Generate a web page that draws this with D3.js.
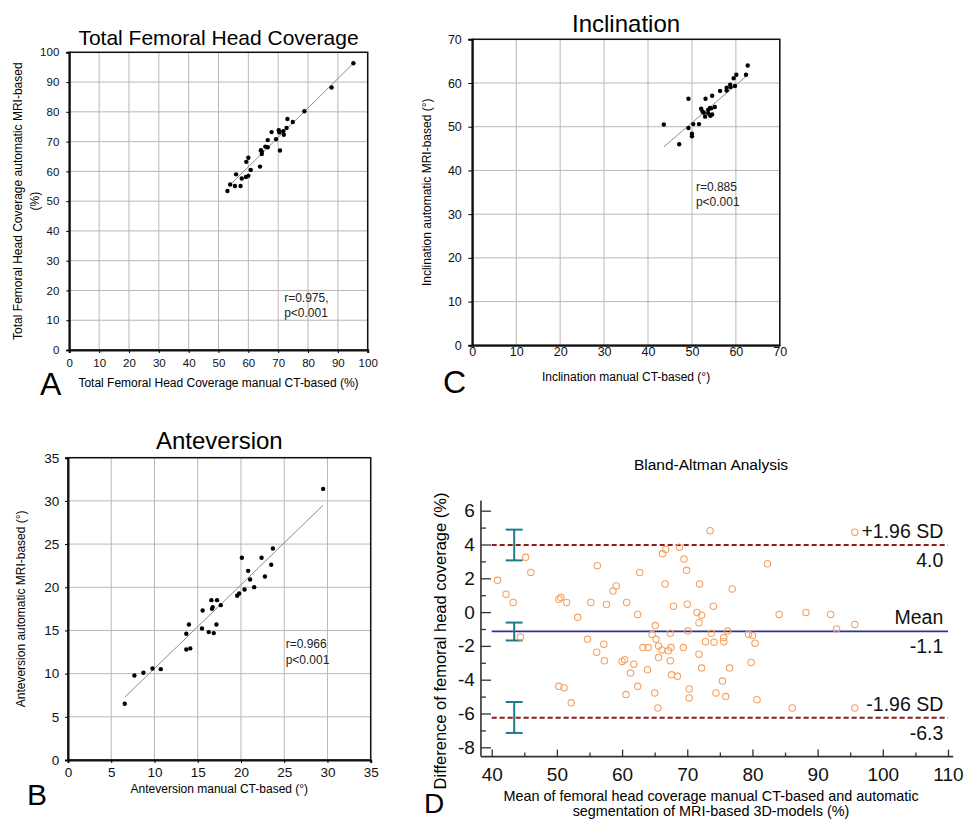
<!DOCTYPE html>
<html>
<head>
<meta charset="utf-8">
<script src="https://cdn.jsdelivr.net/npm/d3@7"></script>
<style>body{margin:0;background:#fff}</style>
</head>
<body>
<script>
// Panel A - total femoral head coverage (%)
const coverageCT  = [53.0,53.9,55.5,55.9,57.4,57.8,59.2,59.3,60.0,60.0,60.8,63.9,64.2,64.5,64.5,65.7,66.5,66.5,67.8,69.3,70.2,70.4,70.6,71.7,71.9,72.8,73.1,74.9,78.8,87.9,95.2];
const coverageMRI = [53.4,55.6,55.1,59.0,55.1,57.6,58.1,63.2,58.5,64.6,60.5,61.6,67.1,65.8,66.6,68.3,68.1,70.5,73.2,70.8,73.8,73.1,67.0,73.5,72.3,74.6,77.6,76.6,80.2,88.2,96.3];
const coverageFit = [[54.4, 56.0], [95.2, 96.3]];
const coverageTicks = [0,10,20,30,40,50,60,70,80,90,100];
const coverageStats = ["r=0.975,", "p<0.001"];

// Panel C - inclination (°)
const inclinationCT  = [43.6,47.1,49.2,49.2,50.0,50.0,50.3,51.6,52.1,52.4,52.7,53.1,53.0,53.7,53.7,54.1,54.2,54.6,54.6,54.4,55.2,56.4,57.9,57.9,58.7,58.8,59.5,59.8,60.1,62.3,62.7];
const inclinationMRI = [50.5,46.0,56.4,49.7,48.4,47.8,50.6,50.6,54.1,53.5,53.2,56.4,52.3,53.9,53.1,54.3,52.5,52.8,57.1,54.2,54.5,58.2,58.9,58.3,59.6,59.1,61.1,59.3,61.9,61.9,64.0];
const inclinationFit = [[43.6, 45.4], [62.4, 61.6]];
const inclinationTicks = [0,10,20,30,40,50,60,70];
const inclinationStats = ["r=0.885", "p<0.001"];

// Panel B - anteversion (°)
const anteversionCT  = [6.56,7.68,8.72,9.77,10.73,13.68,14.14,13.68,13.98,15.49,15.57,16.27,16.85,17.16,16.58,17.23,16.73,16.65,17.66,19.56,19.79,20.41,20.10,20.83,21.06,21.53,22.38,22.77,23.50,23.69,29.50];
const anteversionMRI = [6.51,9.79,10.10,10.60,10.52,12.80,12.92,14.61,15.69,15.23,17.31,14.81,14.69,15.69,18.51,18.51,17.70,17.50,17.93,19.01,19.28,19.74,23.41,21.90,20.90,20.01,23.41,21.25,22.60,24.49,31.39];
const anteversionFit = [[6.6, 7.3], [29.5, 29.5]];
const anteversionTicks = [0,5,10,15,20,25,30,35];
const anteversionStats = ["r=0.966", "p<0.001"];

// Panel D - Bland-Altman
const baMean = [40.9,42.2,43.3,45.2,46.0,44.4,50.3,50.6,51.5,50.3,51.1,52.2,53.2,54.7,55.2,56.2,56.1,57.2,57.3,57.6,
  58.6,59.1,60.0,60.4,60.7,60.6,61.3,61.8,62.4,62.7,62.4,63.2,64.0,63.9,64.6,65.1,65.2,65.0,65.6,65.6,
  65.5,66.1,66.2,66.7,66.6,67.1,67.4,67.5,67.4,67.6,67.9,68.5,68.8,69.4,69.5,69.9,70.0,70.1,70.3,70.3,
  73.5,95.7,82.3,71.9,76.9,74.0,71.5,72.2,71.8,84.1,88.2,92.0,92.9,95.7,73.7,76.2,75.6,75.6,72.8,74.1,
  79.4,80.0,80.4,71.8,72.2,76.5,79.8,75.4,74.4,75.9,80.7,86.1,95.7];
const baDiff = [1.88,1.06,0.57,3.24,2.35,-1.47,0.76,0.86,0.57,-4.39,-4.47,-5.37,-0.31,-1.61,0.57,2.75,-2.37,-1.90,-2.88,0.45,
  1.25,1.55,-2.92,-2.82,0.57,-4.88,-3.61,-3.08,-0.14,2.35,-4.39,-2.10,-2.10,-3.41,-1.33,-0.80,-1.61,-4.78,-2.00,-2.69,
  -5.67,-2.24,3.45,3.71,1.67,-2.29,-1.25,-2.10,-2.88,-3.71,0.35,-3.80,3.84,-2.10,3.14,2.47,0.47,-1.12,-4.55,-5.08,
  4.82,4.73,2.86,1.67,1.37,0.35,-0.02,-0.18,-0.63,-0.14,-0.02,-0.14,-1.00,-0.73,-1.25,-1.12,-1.51,-1.75,-1.75,-1.78,
  -1.31,-1.39,-1.84,-2.49,-3.31,-3.31,-2.98,-4.08,-4.78,-5.00,-5.18,-5.67,-5.67];
const limitNames  = ["+1.96 SD", "Mean", "-1.96 SD"];
const limitValues = [3.97, -1.14, -6.25];
const limitLabels = ["4.0", "-1.1", "-6.3"];
const ciX = 43.45;
const ciLow  = [3.06, -1.68, -7.15];
const ciHigh = [4.88, -0.62, -5.32];
const baXTicks = [40,50,60,70,80,90,100,110];
const baXMinor = [45,55,65,75,85,95,105];
const baYTicks = [-8,-6,-4,-2,0,2,4,6];
const baYMinor = [-7,-5,-3,-1,1,3,5];

const font = "'Liberation Sans', Arial, Helvetica, sans-serif";

const svg = d3.select("body").append("svg")
  .attr("width", 964)
  .attr("height", 820)
  .attr("font-family", font);

function scatterPanel(o) {
  const x = d3.scaleLinear().domain(o.domain).range([o.left, o.right]);
  const y = d3.scaleLinear().domain(o.domain).range([o.bottom, o.top]);
  const g = svg.append("g");

  // grid
  g.append("g").selectAll("line").data(o.ticks).join("line")
      .attr("x1", d => x(d)).attr("x2", d => x(d))
      .attr("y1", o.top).attr("y2", o.bottom)
      .attr("stroke", "#b8b8b8");
  g.append("g").selectAll("line").data(o.ticks).join("line")
      .attr("y1", d => y(d)).attr("y2", d => y(d))
      .attr("x1", o.left).attr("x2", o.right)
      .attr("stroke", "#b8b8b8");

  g.append("rect")
      .attr("x", o.left).attr("y", o.top)
      .attr("width", o.right - o.left).attr("height", o.bottom - o.top)
      .attr("fill", "none").attr("stroke", "#111").attr("stroke-width", 1.5);

  g.append("g")
      .attr("transform", `translate(0,${o.bottom})`)
      .call(d3.axisBottom(x).tickValues(o.ticks).tickSizeOuter(0)
        .tickSize(o.xTick).tickPadding(o.xPad))
      .call(a => a.select(".domain").attr("stroke", "#111").attr("stroke-width", 2))
      .call(a => a.selectAll("text").attr("font-size", o.tickFont).attr("font-family", font).attr("fill", "#111"));

  g.append("g")
      .attr("transform", `translate(${o.left},0)`)
      .call(d3.axisLeft(y).tickValues(o.ticks).tickSizeOuter(0)
        .tickSize(o.yTick).tickPadding(o.yPad))
      .call(a => a.select(".domain").attr("stroke", "#111").attr("stroke-width", 2))
      .call(a => a.selectAll("text").attr("font-size", o.tickFont).attr("font-family", font).attr("fill", "#111"));

  // regression line
  g.append("line")
      .attr("x1", x(o.fit[0][0])).attr("y1", y(o.fit[0][1]))
      .attr("x2", x(o.fit[1][0])).attr("y2", y(o.fit[1][1]))
      .attr("stroke", "#8c8c8c").attr("stroke-width", 1);

  g.append("g").selectAll("circle").data(d3.range(o.X.length)).join("circle")
      .attr("cx", i => x(o.X[i]))
      .attr("cy", i => y(o.Y[i]))
      .attr("r", 2.2)
      .attr("fill", "#000");

  g.append("text")
      .attr("x", (o.left + o.right) / 2).attr("y", o.titleY)
      .attr("text-anchor", "middle").attr("font-size", o.titleSize)
      .text(o.title);

  g.append("text")
      .attr("x", (o.left + o.right) / 2).attr("y", o.xLabelY)
      .attr("text-anchor", "middle").attr("font-size", 12)
      .text(o.xLabel);

  o.yLabel.forEach((t, k) => {
    g.append("text")
        .attr("transform", `translate(${o.yLabelX[k]},${(o.top + o.bottom) / 2}) rotate(-90)`)
        .attr("dy", "0.36em")
        .attr("text-anchor", "middle").attr("font-size", 12)
        .text(t);
  });

  o.stats.forEach((t, k) => {
    g.append("text")
        .attr("x", x(o.statsAt[0])).attr("y", y(o.statsAt[1]) + k * 15.5)
        .attr("font-size", 12).attr("fill", "#222")
        .text(t);
  });

  g.append("text")
      .attr("x", o.letterX).attr("y", o.letterY)
      .attr("font-size", o.letterSize)
      .text(o.letter);
}

scatterPanel({
  X: coverageCT, Y: coverageMRI, fit: coverageFit, ticks: coverageTicks, domain: [0, 100],
  left: 69.3, right: 367.7, top: 52.3, bottom: 350,
  tickFont: 11.5, xTick: 3, xPad: 5.8, yTick: 3, yPad: 7,
  title: "Total Femoral Head Coverage", titleSize: 21, titleY: 44.5,
  xLabel: "Total Femoral Head Coverage manual CT-based (%)", xLabelY: 387,
  yLabel: ["Total Femoral Head Coverage automatic MRI-based", "(%)"], yLabelX: [17.3, 34.3],
  stats: coverageStats, statsAt: [72, 16.2],
  letter: "A", letterX: 40, letterY: 395, letterSize: 32
});

scatterPanel({
  X: inclinationCT, Y: inclinationMRI, fit: inclinationFit, ticks: inclinationTicks, domain: [0, 70],
  left: 472.3, right: 779.8, top: 39.3, bottom: 345.3,
  tickFont: 12.5, xTick: 0, xPad: 2, yTick: 4, yPad: 6.5,
  title: "Inclination", titleSize: 24, titleY: 31.7,
  xLabel: "Inclination manual CT-based (°)", xLabelY: 380.7,
  yLabel: ["Inclination automatic MRI-based (°)"], yLabelX: [426.7],
  stats: inclinationStats, statsAt: [50.9, 35.4],
  letter: "C", letterX: 443, letterY: 393, letterSize: 32
});

scatterPanel({
  X: anteversionCT, Y: anteversionMRI, fit: anteversionFit, ticks: anteversionTicks, domain: [0, 35],
  left: 68, right: 370.7, top: 457.7, bottom: 760,
  tickFont: 13.5, xTick: 3, xPad: 4.4, yTick: 3, yPad: 5.7,
  title: "Anteversion", titleSize: 24, titleY: 449.3,
  xLabel: "Anteversion manual CT-based (°)", xLabelY: 793.3,
  yLabel: ["Anteversion automatic MRI-based (°)"], yLabelX: [20.7],
  stats: anteversionStats, statsAt: [25.17, 12.93],
  letter: "B", letterX: 27, letterY: 805, letterSize: 30
});

// ---- Panel D: Bland-Altman ----
const xD = d3.scaleLinear().domain([40, 110]).range([491.7, 948]);
const yD = d3.scaleLinear().domain([-8, 6]).range([747.3, 510.7]);
const gD = svg.append("g");
const axisColor = "#333";

gD.append("line")
    .attr("x1", xD(38.35)).attr("x2", xD(38.35))
    .attr("y1", yD(6.6)).attr("y2", yD(-8.55))
    .attr("stroke", axisColor).attr("stroke-width", 1.6);
gD.append("line")
    .attr("x1", xD(38.35)).attr("x2", xD(110.8))
    .attr("y1", yD(-8.55)).attr("y2", yD(-8.55))
    .attr("stroke", axisColor).attr("stroke-width", 1.6);

function styleAxis(a) {
  a.select(".domain").remove();
  a.selectAll("line").attr("stroke", axisColor).attr("stroke-width", 1.3);
  a.selectAll("text").attr("font-size", 19).attr("font-family", font).attr("fill", "#111");
}

gD.append("g")
    .attr("transform", `translate(0,${yD(-8.55)})`)
    .call(d3.axisBottom(xD).tickValues(baXTicks).tickSizeInner(-7).tickSizeOuter(0)
      .tickPadding(10.5).tickFormat(d => String(d)))
    .call(styleAxis);
gD.append("g")
    .attr("transform", `translate(0,${yD(-8.55)})`)
    .call(d3.axisBottom(xD).tickValues(baXMinor).tickSizeInner(-4).tickSizeOuter(0).tickFormat(""))
    .call(styleAxis);
gD.append("g")
    .attr("transform", `translate(${xD(38.35)},0)`)
    .call(d3.axisLeft(yD).tickValues(baYTicks).tickSizeInner(-10).tickSizeOuter(0)
      .tickPadding(6).tickFormat(d => String(d)))
    .call(styleAxis);
gD.append("g")
    .attr("transform", `translate(${xD(38.35)},0)`)
    .call(d3.axisLeft(yD).tickValues(baYMinor).tickSizeInner(-5).tickSizeOuter(0).tickFormat(""))
    .call(styleAxis);

// limit lines
gD.append("g").selectAll("line").data(limitValues).join("line")
    .attr("x1", xD(40)).attr("x2", xD(110))
    .attr("y1", d => yD(d)).attr("y2", d => yD(d))
    .attr("stroke", (d, i) => i === 1 ? "#2f3196" : "#8b1c1c")
    .attr("stroke-width", (d, i) => i === 1 ? 1.8 : 2)
    .attr("stroke-dasharray", (d, i) => i === 1 ? null : "5,3");

// confidence interval bars
const ci = gD.append("g").attr("stroke", "#1d7b8a").attr("stroke-width", 2);
ci.selectAll(".v").data(ciLow).join("line")
    .attr("x1", xD(ciX)).attr("x2", xD(ciX))
    .attr("y1", (d, i) => yD(ciHigh[i])).attr("y2", d => yD(d));
ci.selectAll(".hi").data(ciHigh).join("line")
    .attr("x1", xD(ciX) - 8.5).attr("x2", xD(ciX) + 8.5)
    .attr("y1", d => yD(d)).attr("y2", d => yD(d));
ci.selectAll(".lo").data(ciLow).join("line")
    .attr("x1", xD(ciX) - 8.5).attr("x2", xD(ciX) + 8.5)
    .attr("y1", d => yD(d)).attr("y2", d => yD(d));

gD.append("g").selectAll("circle").data(d3.range(baMean.length)).join("circle")
    .attr("cx", i => xD(baMean[i]))
    .attr("cy", i => yD(baDiff[i]))
    .attr("r", 3.2)
    .attr("fill", "none")
    .attr("stroke", "#f5a263")
    .attr("stroke-width", 1.1);

gD.append("g").selectAll("text").data(limitNames).join("text")
    .attr("x", xD(110) - 4.7)
    .attr("y", (d, i) => yD(limitValues[i]) - 7)
    .attr("text-anchor", "end").attr("font-size", 19.5).attr("fill", "#111")
    .text(d => d);
gD.append("g").selectAll("text").data(limitLabels).join("text")
    .attr("x", xD(110) - 4.7)
    .attr("y", (d, i) => yD(limitValues[i]) + 22)
    .attr("text-anchor", "end").attr("font-size", 19.5).attr("fill", "#111")
    .text(d => d);

gD.append("text")
    .attr("x", 711).attr("y", 470)
    .attr("text-anchor", "middle").attr("font-size", 15.5)
    .text("Bland-Altman Analysis");

gD.append("text")
    .attr("transform", `translate(440,641) rotate(-90)`)
    .attr("dy", "0.36em")
    .attr("text-anchor", "middle").attr("font-size", 16.5)
    .text("Difference of femoral head coverage (%)");

gD.append("text")
    .attr("x", 711).attr("y", 801)
    .attr("text-anchor", "middle").attr("font-size", 14.4)
    .text("Mean of femoral head coverage manual CT-based and automatic");
gD.append("text")
    .attr("x", 711).attr("y", 815.5)
    .attr("text-anchor", "middle").attr("font-size", 14.4)
    .text("segmentation of MRI-based 3D-models (%)");

gD.append("text")
    .attr("x", 424).attr("y", 813)
    .attr("font-size", 28)
    .text("D");
</script>
</body>
</html>
